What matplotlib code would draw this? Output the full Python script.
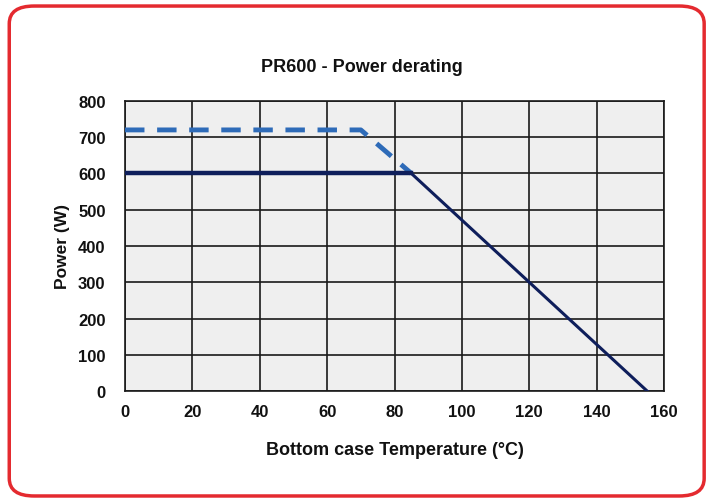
import matplotlib
matplotlib.use("Agg")
import matplotlib.pyplot as plt
from matplotlib.patches import FancyBboxPatch

plt.rcParams['font.family'] = ['Liberation Sans', 'DejaVu Sans']

# derating curves (temperature in C, power in W)
temp_rated = [0, 85, 155]
power_rated = [600, 600, 0]
temp_peak = [0, 70, 85]
power_peak = [720, 720, 600]

xticks = [0, 20, 40, 60, 80, 100, 120, 140, 160]
yticks = [0, 100, 200, 300, 400, 500, 600, 700, 800]

fig = plt.figure(figsize=(7.12, 5.02), dpi=100)

# rounded red frame
frame = FancyBboxPatch((0.013, 0.01), 0.976, 0.976,
                       boxstyle="round,pad=0,rounding_size=0.035",
                       transform=fig.transFigure, fill=False,
                       edgecolor='#e42a2f', linewidth=2.5)
fig.patches.append(frame)

ax = fig.add_axes([0.1756, 0.219, 0.757, 0.578])
ax.set_facecolor('#efefef')

ax.plot(temp_peak, power_peak, color='#2e6bb8', lw=3.5,
        dashes=(4, 2.6), dash_capstyle='butt', zorder=3)
ax.plot(temp_rated[:2], power_rated[:2], color='#0e1e5b', lw=3.2, zorder=4)
ax.plot(temp_rated[1:], power_rated[1:], color='#0e1e5b', lw=2.2, zorder=4)

ax.set_xlim(0, 160)
ax.set_ylim(0, 800)
ax.set_xticks(xticks)
ax.set_yticks(yticks)
ax.grid(True, color='#1a1a1a', lw=1.2)
ax.set_axisbelow(True)
for s in ax.spines.values():
    s.set_color('#1a1a1a')
    s.set_linewidth(1.2)
ax.tick_params(length=0, labelsize=12)
ax.tick_params(axis='x', pad=9)
ax.tick_params(axis='y', pad=14)
for lab in ax.get_xticklabels() + ax.get_yticklabels():
    lab.set_fontweight('bold')
    lab.set_color('#111111')

fig.text(0.508, 0.865, 'PR600 - Power derating', fontsize=13,
         fontweight='bold', color='#111111', ha='center', va='center')
ax.set_xlabel('Bottom case Temperature (\u00b0C)', fontsize=13,
              fontweight='bold', color='#111111', labelpad=16)
ax.set_ylabel('Power (W)', fontsize=12.5, fontweight='bold',
              color='#111111', labelpad=6)

fig.savefig('out.png', dpi=100)
